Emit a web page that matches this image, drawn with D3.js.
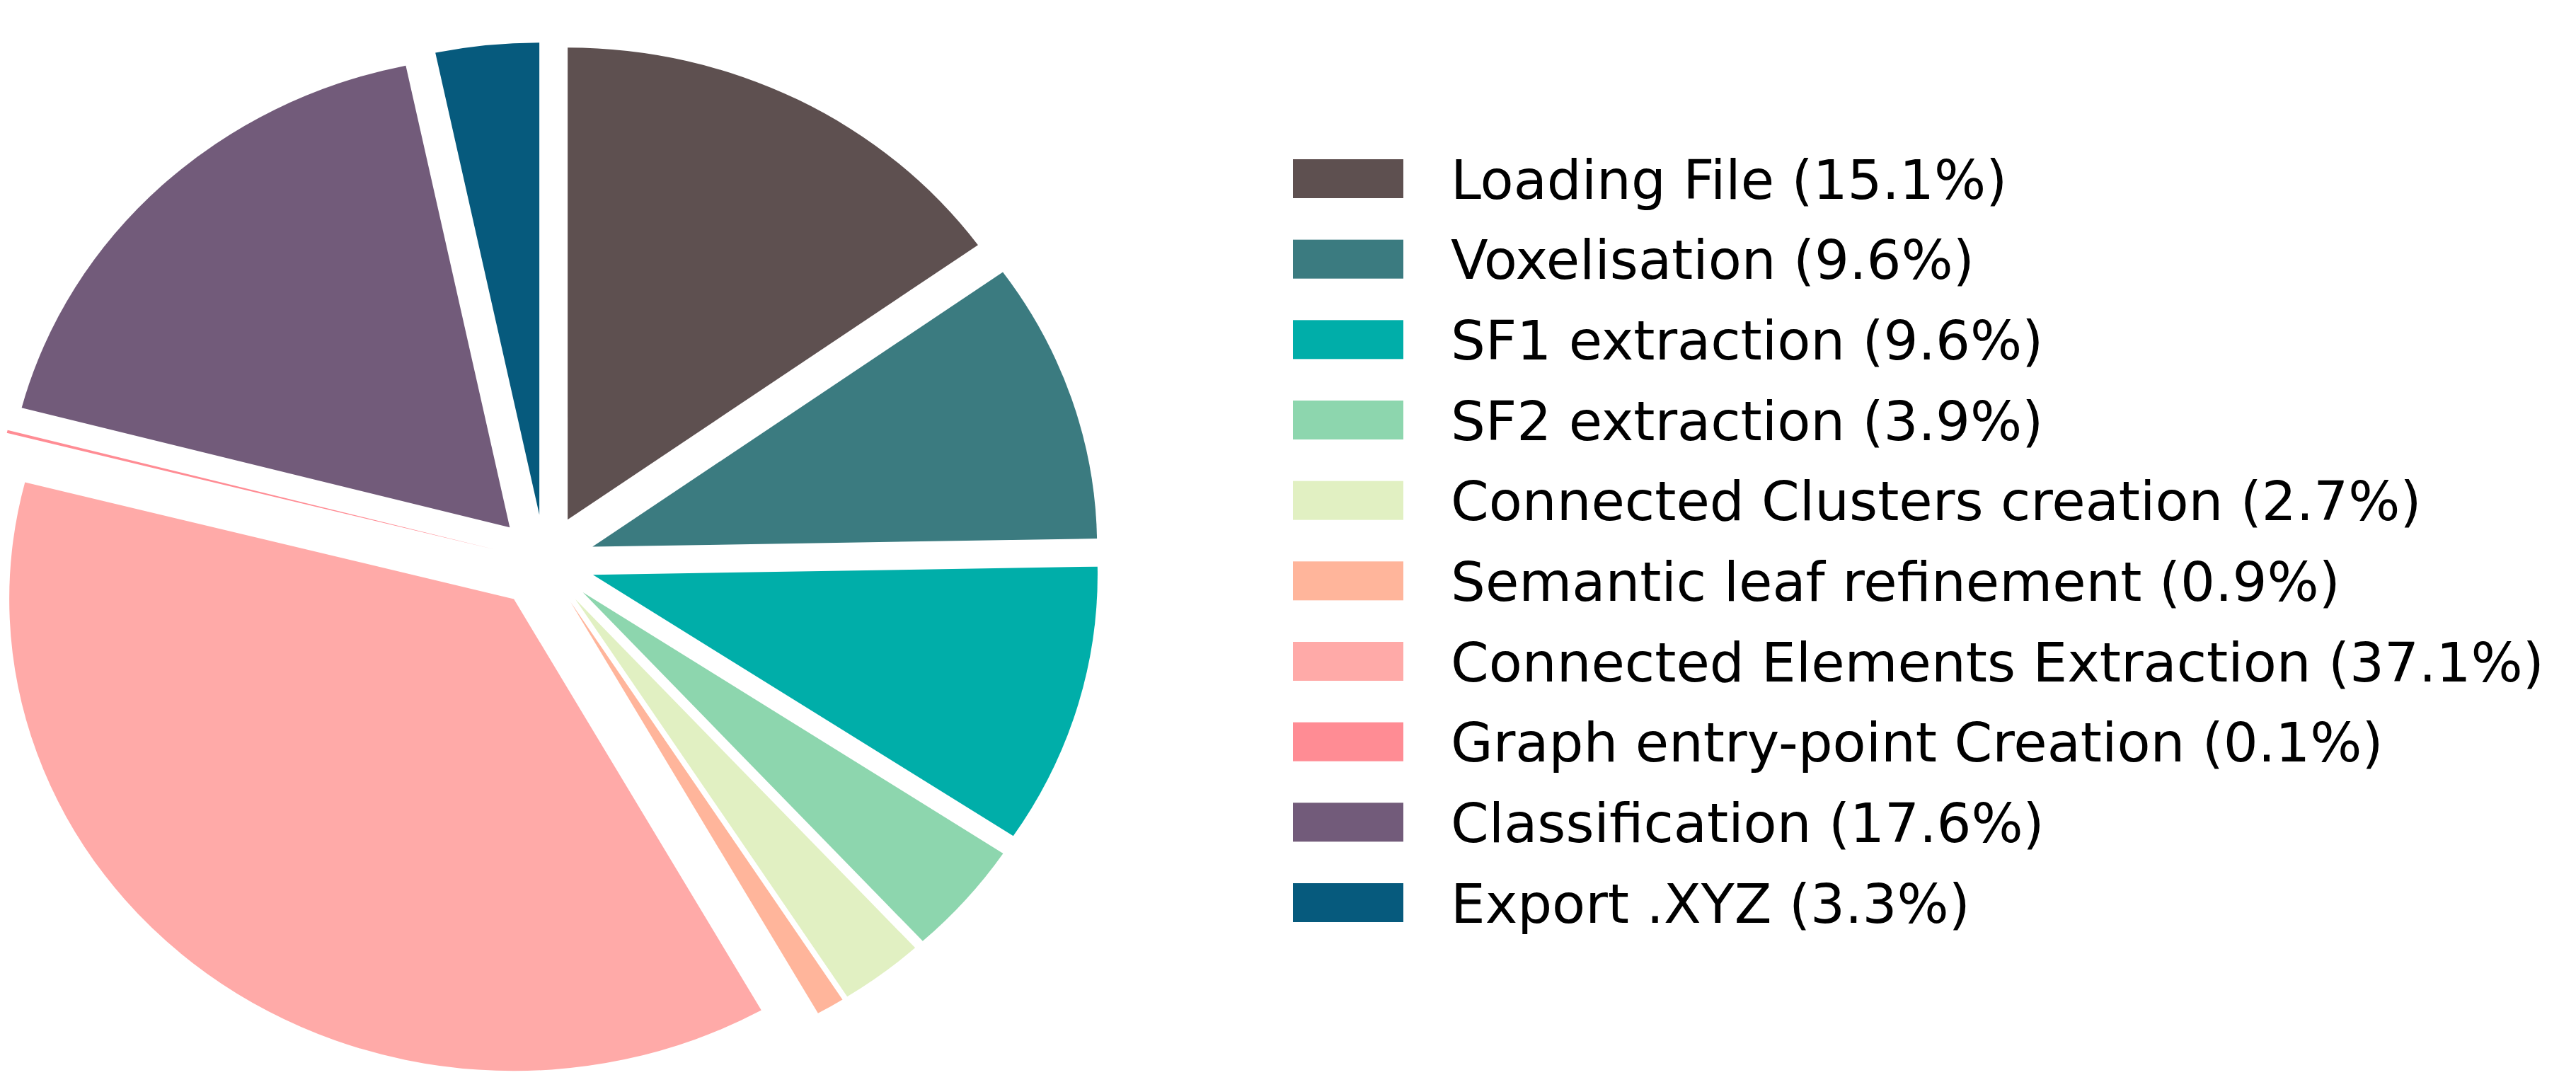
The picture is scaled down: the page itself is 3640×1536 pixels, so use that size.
<!DOCTYPE html>
<html>
<head>
<meta charset="utf-8">
<script src="https://cdn.jsdelivr.net/npm/d3@7"></script>
<style>
  html, body { margin: 0; padding: 0; background: #ffffff; }
  svg { display: block; }
</style>
</head>
<body>
<svg id="chart" width="3640" height="1536"></svg>
<script>
// ---- data ----
const categories = [
  "Loading File",
  "Voxelisation",
  "SF1 extraction",
  "SF2 extraction",
  "Connected Clusters creation",
  "Semantic leaf refinement",
  "Connected Elements Extraction",
  "Graph entry-point Creation",
  "Classification",
  "Export .XYZ"
];
const values = [15.1, 9.6, 9.6, 3.9, 2.7, 0.9, 37.1, 0.1, 17.6, 3.3];
const colors = [
  "#5e5050", "#3b7b80", "#00aea9", "#8dd6ae", "#e1f0c2",
  "#ffb59b", "#ffaaa8", "#ff8c94", "#725b7a", "#065a7d"
];

// ---- layout ----
const W = 3640, H = 1536;
const cx = 769.5, cy = 793.5;
const R = 713;          // horizontal radius
const ky = 0.9353;      // vertical squash (non-equal aspect)
const explode = 0.1;    // fraction of radius

const svg = d3.select("#chart");

const pie = d3.pie().sort(null).value(d => d.v).startAngle(0).endAngle(2 * Math.PI);
const arcs = pie(values.map((v, i) => ({ v, i })));
const arc = d3.arc().innerRadius(0).outerRadius(R);

const g = svg.append("g")
  .attr("transform", `translate(${cx},${cy}) scale(1,${ky})`);

g.selectAll("path.slice")
  .data(arcs)
  .join("path")
  .attr("class", "slice")
  .attr("d", arc)
  .attr("fill", d => colors[d.data.i])
  .attr("transform", d => {
    const a = (d.startAngle + d.endAngle) / 2;
    const off = explode * R;
    return `translate(${off * Math.sin(a)},${-off * Math.cos(a)})`;
  });

// ---- legend ----
const yRow = d3.scaleLinear().domain([0, categories.length - 1]).range([225, 1248]);
const legend = svg.append("g");
const rows = legend.selectAll("g.row")
  .data(categories.map((c, i) => ({ c, i })))
  .join("g")
  .attr("class", "row")
  .attr("transform", d => `translate(0,${yRow(d.i)})`);

rows.append("rect")
  .attr("x", 1827)
  .attr("y", 0)
  .attr("width", 156)
  .attr("height", 55)
  .attr("fill", d => colors[d.i]);

rows.append("text")
  .attr("x", 2050)
  .attr("y", 55.5)
  .attr("font-family", "'DejaVu Sans', sans-serif")
  .attr("font-size", 77)
  .attr("fill", "#000")
  .text(d => `${d.c} (${values[d.i]}%)`);
</script>
</body>
</html>
